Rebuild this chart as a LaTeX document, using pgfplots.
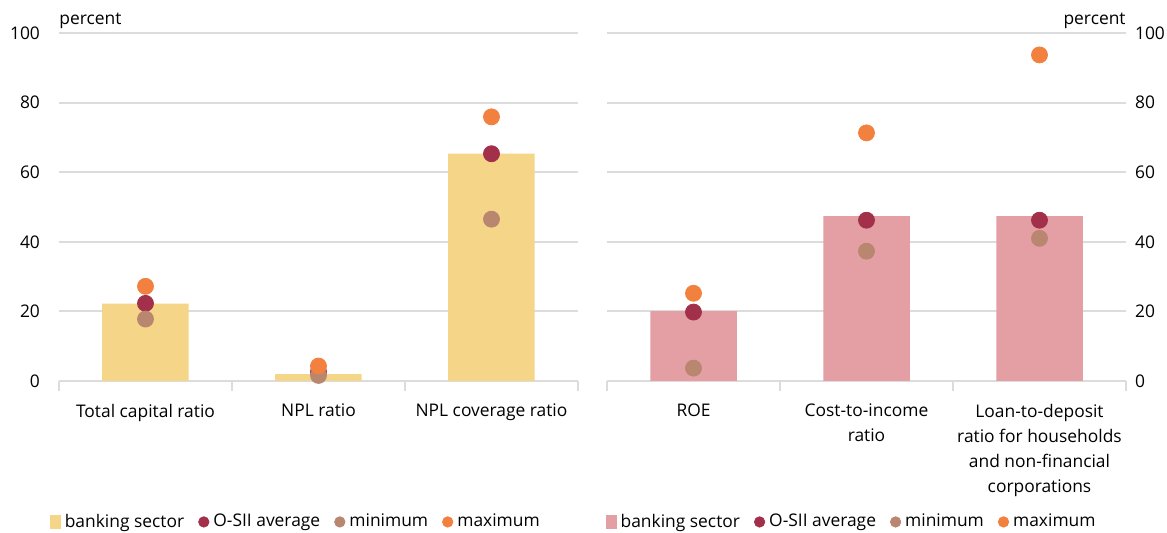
\documentclass[border=0pt]{standalone}
\usepackage{fontspec}
\setmainfont{Open Sans}
\usepackage{pgfplots}
\pgfplotsset{compat=1.18}

\definecolor{barY}{HTML}{F5D587}
\definecolor{barP}{HTML}{E49FA4}
\definecolor{avgc}{HTML}{A2304A}
\definecolor{minc}{HTML}{B98670}
\definecolor{maxc}{HTML}{F2803F}
\definecolor{gridc}{HTML}{DCDCDC}

\newcommand{\lblfont}{\fontsize{8.7}{12.5}\selectfont}

\pgfplotsset{
  panel/.style={
    scale only axis, width=259.5pt, height=174pt,
    xmin=-0.5, xmax=2.5, ymin=0, ymax=100,
    clip=false,
    ytick={0,20,...,100},
    ymajorgrids, grid style={gridc, line width=1pt},
    axis x line*=bottom,
    x axis line style={gridc, line width=1pt, -},
    y axis line style={draw=none},
    xtick={0,1,2},
    major tick length=5pt,
    xtick align=outside,
    x tick style={draw=none},
    y tick style={draw=none},
    extra x ticks={-0.5,0.5,1.5,2.5},
    extra x tick labels={},
    extra x tick style={grid=none, x tick style={draw=gridc, line width=1pt}},
    tick label style={font=\lblfont},
    /pgf/number format/assume math mode=true,
    xticklabel style={align=center, font=\lblfont, yshift=-3pt},
    legend style={draw=none, fill=none, font=\lblfont,
      legend columns=4, anchor=west,
      /tikz/every even column/.append style={column sep=5pt},
      /tikz/every odd column/.append style={column sep=0pt}},
    legend cell align=left,
  },
  dot/.style={only marks, mark=*, mark size=4pt, color=#1, mark options={draw=none, fill=#1},
    legend image code/.code={\fill[#1] (2.6pt,0pt) circle (2.6pt);}},
}

\begin{document}
\begin{tikzpicture}
\useasboundingbox (0,0) rectangle (583.5pt,266.5pt);

% solvency and asset quality
\begin{axis}[panel,
  at={(29.5pt,76pt)}, anchor=south west,
  axis y line*=left,
  yticklabel style={xshift=-6pt},
  xticklabels={Total capital ratio, NPL ratio, NPL coverage ratio},
  legend style={at={(-0.03,-0.405)}},
]
\addplot[ybar, bar width=0.5, fill=barY, draw=none,
  legend image code/.code={\fill[barY] (0pt,-3.5pt) rectangle (5.5pt,3.5pt);}]
  coordinates {(0,22.2) (1,2.0) (2,65.3)};
\addplot[dot=avgc] coordinates {(0,22.3) (1,2.6) (2,65.3)};
\addplot[dot=minc] coordinates {(0,17.8) (1,1.6) (2,46.5)};
\addplot[dot=maxc] coordinates {(0,27.2) (1,4.3) (2,75.9)};
\legend{banking sector, O-SII average, minimum, maximum}
\node[anchor=south west, inner sep=0pt, font=\lblfont] at (rel axis cs:0,1) [yshift=2pt] {percent};
\end{axis}

% profitability and funding
\begin{axis}[panel,
  at={(303.5pt,76pt)}, anchor=south west,
  axis y line*=right,
  yticklabel style={anchor=west, xshift=1pt},
  xticklabels={ROE, {Cost-to-income\\ratio}, {Loan-to-deposit\\ratio for households\\and non-financial\\corporations}},
  legend style={at={(-0.015,-0.405)}},
]
\addplot[ybar, bar width=0.5, fill=barP, draw=none,
  legend image code/.code={\fill[barP] (0pt,-3.5pt) rectangle (5.5pt,3.5pt);}]
  coordinates {(0,20.1) (1,47.4) (2,47.4)};
\addplot[dot=avgc] coordinates {(0,19.8) (1,46.2) (2,46.2)};
\addplot[dot=minc] coordinates {(0,3.7) (1,37.3) (2,41.0)};
\addplot[dot=maxc] coordinates {(0,25.2) (1,71.3) (2,93.7)};
\legend{banking sector, O-SII average, minimum, maximum}
\node[anchor=south east, inner sep=0pt, font=\lblfont] at (rel axis cs:1,1) [yshift=2pt] {percent};
\end{axis}
\end{tikzpicture}
\end{document}
